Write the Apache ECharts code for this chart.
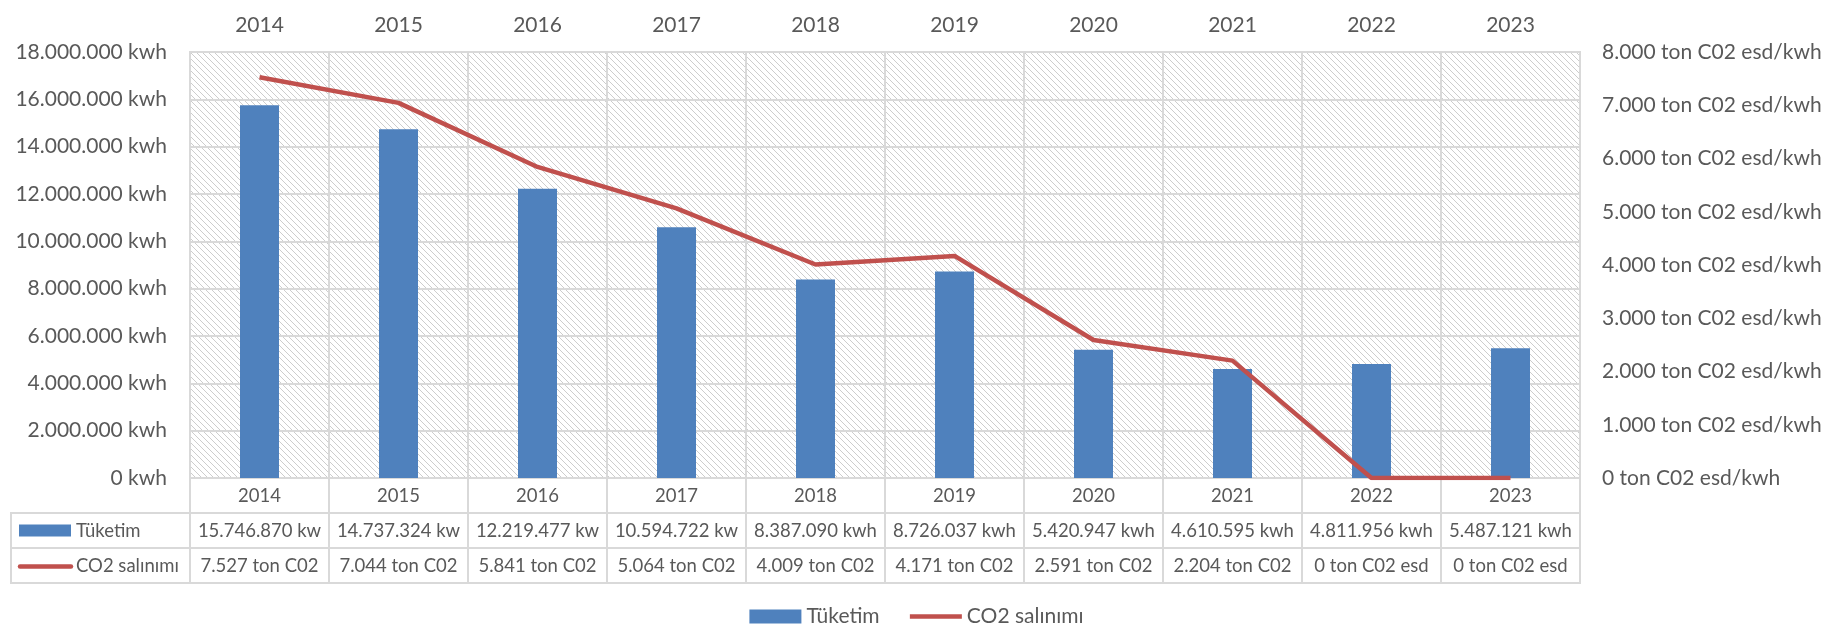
<!DOCTYPE html>
<html>
<head>
<meta charset="utf-8">
<script src="https://cdn.jsdelivr.net/npm/echarts@6/dist/echarts.min.js"></script>
<style>
  html, body { margin: 0; padding: 0; background: #fff; }
  #main { width: 1833px; height: 627px; }
</style>
</head>
<body>
<div id="main"></div>
<script>
// values
const years = ['2014', '2015', '2016', '2017', '2018', '2019', '2020', '2021', '2022', '2023'];
const consumption = [15746870, 14737324, 12219477, 10594722, 8387090, 8726037, 5420947, 4610595, 4811956, 5487121];
const co2 = [7527, 7044, 5841, 5064, 4009, 4171, 2591, 2204, 0, 0];
const seriesNames = ['Tüketim', 'CO2 salınımı'];
const seriesColors = ['#4f81bd', '#c0504d'];

const FONT = 'Lato, "Open Sans", sans-serif';
const TXT = '#595959';
const LINE = '#d9d9d9';

function dots(v) {
  return String(v).replace(/\B(?=(\d{3})+(?!\d))/g, '.');
}

// excel-like hatch fill for the plot area
function hatch() {
  const c = document.createElement('canvas');
  c.width = 6; c.height = 6;
  const g = c.getContext('2d');
  g.fillStyle = '#fff';
  g.fillRect(0, 0, 6, 6);
  g.fillStyle = '#cdcdcd';
  for (let i = 0; i < 6; i++) g.fillRect(i, i, 1, 1);
  return c;
}

// table cells get cut like excel does when text is wider than the cell
const measure = document.createElement('canvas').getContext('2d');
function clip(text, w, size) {
  measure.font = size + 'px ' + FONT;
  let t = text;
  while (t.length > 1 && measure.measureText(t).width > w) t = t.slice(0, -1);
  return t.replace(/\s+$/, '');
}

const tableRows = [
  years,
  consumption.map(v => dots(v) + ' kwh'),
  co2.map(v => dots(v) + ' ton C02 esd')
];

const cellData = [];
for (let r = 0; r < 3; r++) for (let i = 0; i < years.length; i++) cellData.push([i, r]);

const chart = echarts.init(document.getElementById('main'));

chart.setOption({
  animation: false,
  textStyle: { fontFamily: FONT },
  grid: [
    { left: 190, top: 52, width: 1390, height: 426, show: true,
      backgroundColor: { image: hatch(), repeat: 'repeat' },
      borderColor: LINE, borderWidth: 2 },
    { left: 190, top: 478, width: 1390, height: 105, show: true,
      backgroundColor: 'transparent', borderColor: LINE, borderWidth: 2 },
    { left: 11, top: 513, width: 179, height: 70, show: true,
      backgroundColor: 'transparent', borderColor: LINE, borderWidth: 2 }
  ],
  legend: {
    left: 'center', top: 606, padding: 0,
    itemWidth: 52, itemHeight: 14, itemGap: 28,
    data: [
      { name: seriesNames[0], icon: 'rect' },
      { name: seriesNames[1], itemStyle: { opacity: 0 }, lineStyle: { width: 4.5, color: seriesColors[1] } }
    ],
    textStyle: { color: TXT, fontSize: 21, fontFamily: FONT }
  },
  xAxis: [
    { type: 'category', gridIndex: 0, position: 'top', data: years,
      axisLine: { show: true, lineStyle: { color: LINE, width: 2 } },
      axisTick: { show: true, length: 7, lineStyle: { color: LINE, width: 2 } },
      axisLabel: { color: TXT, fontSize: 21, margin: 16 },
      splitLine: { show: true, lineStyle: { color: LINE, width: 2 } } },
    { type: 'category', gridIndex: 1, data: years,
      axisLine: { show: false }, axisTick: { show: false }, axisLabel: { show: false },
      splitLine: { show: true, lineStyle: { color: LINE, width: 2 } } },
    { type: 'category', gridIndex: 2, data: ['legend'],
      axisLine: { show: false }, axisTick: { show: false }, axisLabel: { show: false },
      splitLine: { show: false } }
  ],
  yAxis: [
    { type: 'value', gridIndex: 0, min: 0, max: 18000000, interval: 2000000,
      axisLine: { show: false }, axisTick: { show: false },
      axisLabel: { color: TXT, fontSize: 21, margin: 23, formatter: v => dots(v) + ' kwh' },
      splitLine: { lineStyle: { color: LINE, width: 2 } } },
    { type: 'value', gridIndex: 0, position: 'right', min: 0, max: 8000, interval: 1000,
      axisLine: { show: false }, axisTick: { show: false },
      axisLabel: { color: TXT, fontSize: 21, margin: 22, formatter: v => dots(v) + ' ton C02 esd/kwh' },
      splitLine: { show: false } },
    { type: 'category', gridIndex: 1, inverse: true, data: ['year', 'kwh', 'co2'],
      axisLine: { show: false }, axisTick: { show: false }, axisLabel: { show: false },
      splitLine: { show: true, lineStyle: { color: LINE, width: 2 } } },
    { type: 'category', gridIndex: 2, inverse: true, data: seriesNames,
      axisLine: { show: false }, axisTick: { show: false }, axisLabel: { show: false },
      splitLine: { show: true, lineStyle: { color: LINE, width: 2 } } }
  ],
  series: [
    { name: seriesNames[0], type: 'bar', xAxisIndex: 0, yAxisIndex: 0,
      barWidth: 39, data: consumption,
      itemStyle: { color: seriesColors[0] } },
    { name: seriesNames[1], type: 'line', xAxisIndex: 0, yAxisIndex: 1,
      data: co2, showSymbol: false, symbol: 'none',
      lineStyle: { color: seriesColors[1], width: 4.5 },
      itemStyle: { color: seriesColors[1] }, z: 5 },
    { type: 'custom', xAxisIndex: 1, yAxisIndex: 2, data: cellData, silent: true,
      renderItem: function (params, api) {
        const i = api.value(0), r = api.value(1);
        const p = api.coord([i, r]);
        const size = 18.5;
        const text = r === 0 ? tableRows[r][i] : clip(tableRows[r][i], 132, size);
        return {
          type: 'text', x: p[0], y: p[1] + 1,
          style: { text: text, fill: TXT, fontSize: size, fontFamily: FONT,
                   align: 'center', verticalAlign: 'middle' }
        };
      } },
    { type: 'custom', xAxisIndex: 2, yAxisIndex: 3, data: [[0, 0], [0, 1]], silent: true,
      renderItem: function (params, api) {
        const r = api.value(1);
        const p = api.coord([0, r]);
        const left = p[0] - 179 / 2 + 8;
        const icon = r === 0
          ? { type: 'rect', shape: { x: left, y: p[1] - 6, width: 52, height: 12 },
              style: { fill: seriesColors[0] } }
          : { type: 'line', shape: { x1: left + 1, y1: p[1] + 1, x2: left + 52, y2: p[1] + 1 },
              style: { stroke: seriesColors[1], lineWidth: 4.5, lineCap: 'round' } };
        return {
          type: 'group',
          children: [icon, {
            type: 'text', x: left + 57, y: p[1] + 1,
            style: { text: seriesNames[r], fill: TXT, fontSize: 18.5, fontFamily: FONT,
                     align: 'left', verticalAlign: 'middle' }
          }]
        };
      } }
  ]
});
</script>
</body>
</html>
